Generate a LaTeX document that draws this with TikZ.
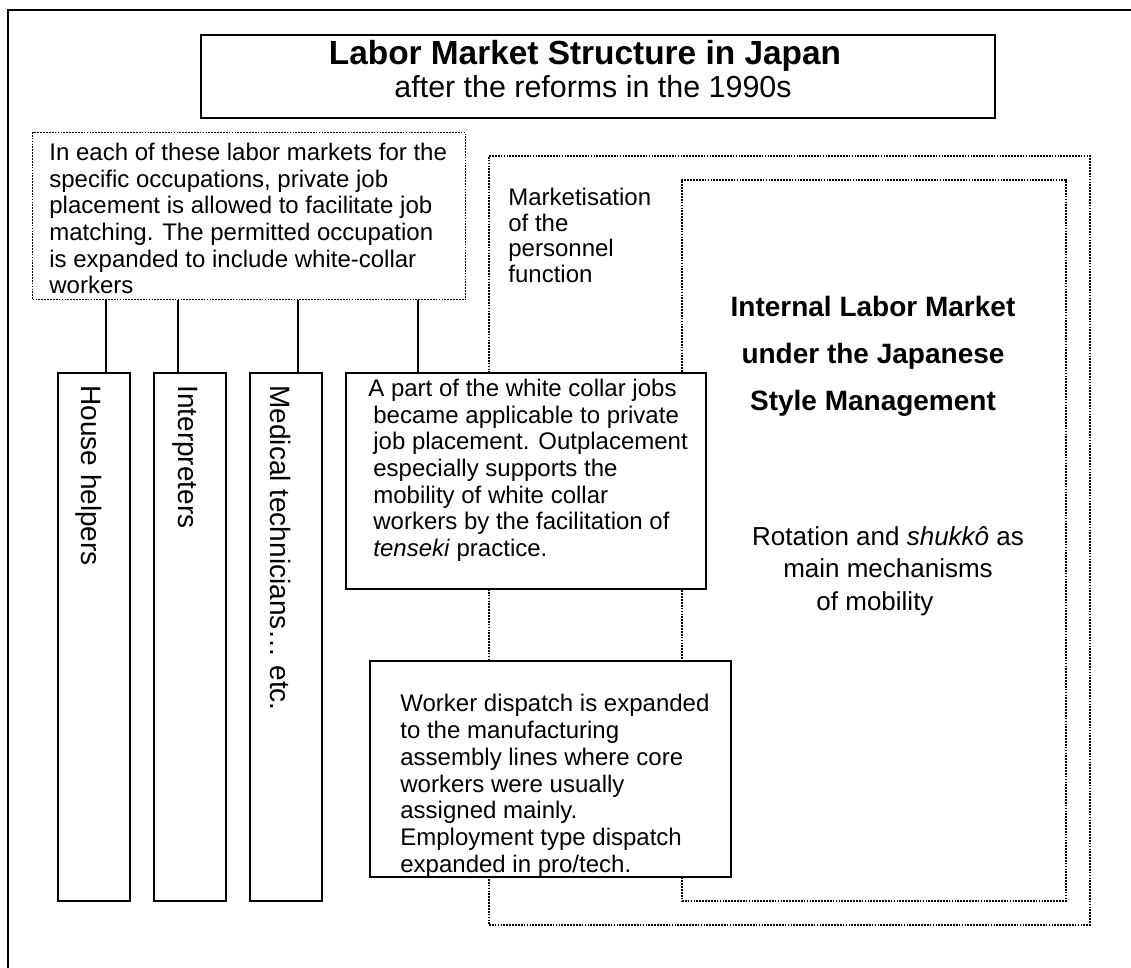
\documentclass[tikz,border=0pt]{standalone}
\usepackage{fontspec}
\setmainfont{Liberation Sans}
\usetikzlibrary{positioning}

\begin{document}
\begin{tikzpicture}[x=0.5pt,y=-0.5pt,
        box/.style={draw,line width=0.9pt,fill=white,inner sep=0pt,anchor=north west},
        dotbox/.style={draw,line width=0.9pt,dash pattern=on 0.85pt off 0.6pt,inner sep=0pt,anchor=north west},
        txt/.style={inner sep=0pt,align=left,anchor=north west,font=\fontsize{12}{13.3}\selectfont},
        side/.style={inner sep=0pt,rotate=-90,anchor=west,font=\fontsize{14}{16}\selectfont},
        link/.style={line width=0.9pt}]
    \useasboundingbox (0,0) rectangle (1131,968);
    \draw [line width=0.9pt] (8,968) -- (8,10) -- (1131,10);
    % title
    \node [box,minimum width=397pt,minimum height=41.5pt] (title) at (200,34) {};
    \node [inner sep=0pt,anchor=base,font=\bfseries\fontsize{16.7}{18}\selectfont] (head) at (585,65) {Labor Market Structure in Japan};
    \node [inner sep=0pt,anchor=base,font=\fontsize{15.2}{17}\selectfont] (sub) at (593,98) {after the reforms in the 1990s};
    % dotted areas
    \node [dotbox,minimum width=300.5pt,minimum height=384.5pt] (market) at (488,155) {};
    \node [dotbox,minimum width=192pt,minimum height=360.5pt] (internal) at (681,179) {};
    \node [dotbox,line width=0.6pt,minimum width=216.5pt,minimum height=83.5pt] (specific) at (32,132) {};
    \node [txt] (spectext) at (49,143) {In each of these labor markets for the\\specific occupations, private job\\placement is allowed to facilitate job\\matching. The permitted occupation\\is expanded to include white-collar\\workers};
    \node [txt,font=\fontsize{12}{12.8}\selectfont] (marketing) at (508,188) {Marketisation\\of the\\personnel\\function};
    \node [inner sep=0pt,anchor=north,align=center,font=\bfseries\fontsize{14}{23.5}\selectfont] (ilm) at (873,296) {Internal Labor Market\\under the Japanese\\Style Management};
    \node [inner sep=0pt,anchor=north,align=center,font=\fontsize{13}{16.25}\selectfont] (rotation) at (888,526) {Rotation and \textit{shukkô} as\\main mechanisms\\of mobility\hspace*{13pt}};
    % occupations
    \node [box,minimum width=36pt,minimum height=264pt] (helpers) at (57,372) {};
    \node [box,minimum width=36pt,minimum height=264pt] (interp) at (153,372) {};
    \node [box,minimum width=36pt,minimum height=264pt] (medical) at (249,372) {};
    \node [side] at ([xshift=-2.5pt,yshift=-6.5pt]helpers.north) {House helpers};
    \node [side] at ([xshift=-2.5pt,yshift=-6.5pt]interp.north) {Interpreters};
    \node [side] at ([xshift=-2.5pt,yshift=-6.5pt]medical.north) {Medical technicians… etc.};
    \node [box,minimum width=180pt,minimum height=108pt] (whitecollar) at (345,372) {};
    \node [txt] (wctext) at (373,379) {\hspace*{-2.5pt}A part of the white collar jobs\\became applicable to private\\job placement. Outplacement\\especially supports the\\mobility of white collar\\workers by the facilitation of\\\textit{tenseki} practice.};
    \node [box,minimum width=180.5pt,minimum height=108pt] (dispatch) at (369,660) {};
    \node [txt,font=\fontsize{12}{13.4}\selectfont] (disptext) at (400,694) {Worker dispatch is expanded\\to the manufacturing\\assembly lines where core\\workers were usually\\assigned mainly.\\Employment type dispatch\\expanded in pro/tech.};
    % links
    \foreach \n/\s in {helpers/6pt,interp/-6pt,medical/6pt,whitecollar/-54pt}
        \draw [link] ([xshift=\s]\n.north) coordinate (top) -- (top |- specific.south);
\end{tikzpicture}
\end{document}
